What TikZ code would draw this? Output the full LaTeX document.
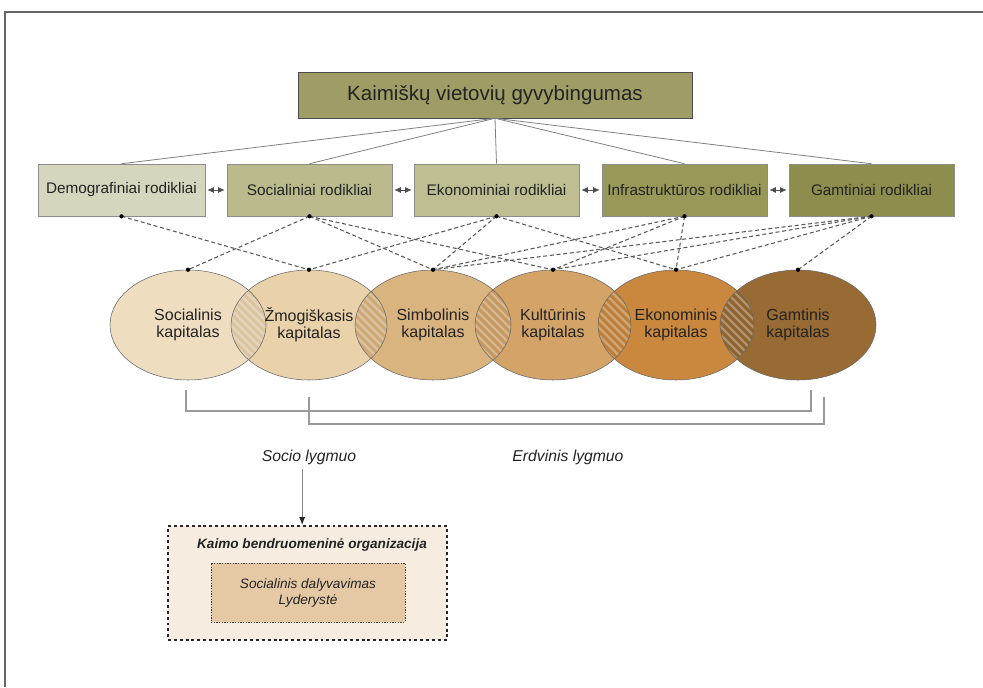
\documentclass[tikz,border=0pt]{standalone}
\usepackage{fontspec}
\setmainfont{Liberation Sans}
\usetikzlibrary{shapes.geometric,arrows.meta}

\definecolor{olivetop}{RGB}{157,157,101}
\definecolor{demofill}{RGB}{214,214,190}
\definecolor{socfill}{RGB}{186,186,141}
\definecolor{ekofill}{RGB}{190,190,146}
\definecolor{infrafill}{RGB}{152,152,88}
\definecolor{gamtfill}{RGB}{141,141,77}
\definecolor{capA}{RGB}{239,221,192}
\definecolor{capB}{RGB}{233,209,170}
\definecolor{capC}{RGB}{218,180,127}
\definecolor{capD}{RGB}{212,163,104}
\definecolor{capE}{RGB}{201,136,62}
\definecolor{capF}{RGB}{152,106,52}
\definecolor{orgfill}{RGB}{246,236,224}
\definecolor{partfill}{RGB}{229,201,165}
\definecolor{textgray}{RGB}{35,35,35}

\tikzset{
    indicator/.style={draw=black!45, inner sep=0pt, minimum width=123.75pt, minimum height=39pt,
        text=textgray, font=\fontsize{11.5}{13}\selectfont},
    capital/.style={ellipse, draw=black!60, inner sep=0pt, minimum width=117pt, minimum height=82.5pt,
        align=center, text=textgray, font=\fontsize{12}{12.8}\selectfont},
    link/.style={draw=black!65, line width=0.8pt, dash pattern=on 3pt off 2pt},
    twoway/.style={draw=black!70, line width=0.6pt, {Latex[length=5pt,width=4.5pt]}-{Latex[length=5pt,width=4.5pt]},
        shorten <=1.5pt, shorten >=1.5pt},
    bracket/.style={draw=black!40, line width=1.1pt},
    level/.style={text=textgray, font=\fontsize{11.8}{13}\selectfont\itshape},
}

\begin{document}
\begin{tikzpicture}[x=7.5pt, y=7.5pt]
    \useasboundingbox (0, 0) rectangle (98.3, 68.7);
    % frame
    \draw[black!60, line width=1.1pt] (0.5, 0) -- (0.5, 67.5) -- (98.3, 67.5);

    % top
    \node[draw=black!70, fill=olivetop, minimum width=295.5pt, minimum height=34.5pt, inner sep=0pt,
        text=textgray, font=\fontsize{15.4}{17}\selectfont] (gyv) at (49.5, 59.2) {Kaimiškų vietovių gyvybingumas};

    % indicators
    \node[indicator, fill=demofill, minimum width=125.25pt] (demo) at (12.15, 49.7) {Demografiniai rodikliai};
    \node[indicator, fill=socfill] (soc) at (30.95, 49.7) {Socialiniai rodikliai};
    \node[indicator, fill=ekofill] (eko) at (49.65, 49.7) {Ekonominiai rodikliai};
    \node[indicator, fill=infrafill] (infra) at (68.45, 49.7) {Infrastruktūros rodikliai};
    \node[indicator, fill=gamtfill] (gamt) at (87.15, 49.7) {Gamtiniai rodikliai};

    \draw[black!50, line width=0.6pt] (gyv.south) -- (demo.north);
    \draw[black!50, line width=0.6pt] (gyv.south) -- (soc.north);
    \draw[black!50, line width=0.6pt] (gyv.south) -- (eko.north);
    \draw[black!50, line width=0.6pt] (gyv.south) -- (infra.north);
    \draw[black!50, line width=0.6pt] (gyv.south) -- (gamt.north);

    \draw[twoway] (demo) -- (soc);
    \draw[twoway] (soc) -- (eko);
    \draw[twoway] (eko) -- (infra);
    \draw[twoway] (infra) -- (gamt);

    % capitals
    \fill[capA] (18.8, 36.2) ellipse [x radius=7.8, y radius=5.5];
    \fill[capB] (30.9, 36.2) ellipse [x radius=7.8, y radius=5.5];
    \fill[capC] (43.3, 36.2) ellipse [x radius=7.8, y radius=5.5];
    \fill[capD] (55.3, 36.2) ellipse [x radius=7.8, y radius=5.5];
    \fill[capE] (67.6, 36.2) ellipse [x radius=7.8, y radius=5.5];
    \fill[capF] (79.8, 36.2) ellipse [x radius=7.8, y radius=5.5];

    % hatched overlaps
    \foreach \a/\b in {18.8/30.9, 30.9/43.3, 43.3/55.3, 55.3/67.6, 67.6/79.8} {
        \begin{scope}
            \clip (\a, 36.2) ellipse [x radius=7.8, y radius=5.5];
            \clip (\b, 36.2) ellipse [x radius=7.8, y radius=5.5];
            \fill[black, opacity=0.06] (\a, 30) rectangle (\b, 42);
            \foreach \s in {-8,...,8}
                \draw[white, opacity=0.3, line width=1.8pt] ({(\a+\b)/2+\s*0.8-6}, 42) -- ++(12, -12);
        \end{scope}
    }

    \node[capital] (socl) at (18.8, 36.2) {Socialinis\\kapitalas};
    \node[capital] (zmog) at (30.9, 36.2) {Žmogiškasis\\kapitalas};
    \node[capital] (simb) at (43.3, 36.2) {Simbolinis\\kapitalas};
    \node[capital] (kult) at (55.3, 36.2) {Kultūrinis\\kapitalas};
    \node[capital] (ekon) at (67.6, 36.2) {Ekonominis\\kapitalas};
    \node[capital] (gamtk) at (79.8, 36.2) {Gamtinis\\kapitalas};

    % links
    \draw[link] (demo.south) -- (zmog.north);
    \draw[link] (soc.south) -- (socl.north);
    \draw[link] (soc.south) -- (simb.north);
    \draw[link] (soc.south) -- (kult.north);
    \draw[link] (eko.south) -- (zmog.north);
    \draw[link] (eko.south) -- (simb.north);
    \draw[link] (eko.south) -- (ekon.north);
    \draw[link] (infra.south) -- (simb.north);
    \draw[link] (infra.south) -- (kult.north);
    \draw[link] (infra.south) -- (ekon.north);
    \draw[link] (gamt.south) -- (simb.north);
    \draw[link] (gamt.south) -- (kult.north);
    \draw[link] (gamt.south) -- (ekon.north);
    \draw[link] (gamt.south) -- (gamtk.north);

    \foreach \n in {demo, soc, eko, infra, gamt}
        \fill (\n.south) circle (1.6pt);
    \foreach \n in {socl, zmog, simb, kult, ekon, gamtk}
        \fill (\n.north) circle (1.6pt);

    % levels
    \coordinate (sp1) at (18.6, 29.7);
    \coordinate (sp2) at (81.1, 29.7);
    \coordinate (ep1) at (30.9, 29.0);
    \coordinate (ep2) at (82.4, 29.0);
    \draw[bracket] (sp1) -- ++(0, -2.1) -| (sp2);
    \draw[bracket] (ep1) -- ++(0, -2.7) -| (ep2);

    \node[level] (socio) at (30.9, 23.0) {Socio lygmuo};
    \node[level] (erdv) at (56.8, 23.0) {Erdvinis lygmuo};

    % organisation
    \node[draw=black!85, fill=orgfill, line width=1.3pt, dash pattern=on 2.2pt off 2.2pt,
        minimum width=209.25pt, minimum height=85.5pt, inner sep=0pt] (org) at (30.75, 10.4) {};
    \node[text=textgray, font=\fontsize{10.2}{12}\selectfont\bfseries\itshape] (orgtitle) at (31.2, 14.2)
        {Kaimo bendruomeninė organizacija};
    \node[draw=black!75, fill=partfill, line width=0.6pt, dash pattern=on 1pt off 1pt,
        minimum width=145.5pt, minimum height=44.25pt, inner sep=0pt, align=center,
        text=textgray, font=\fontsize{10.2}{12}\selectfont\itshape] (part) at (30.8, 9.45)
        {Socialinis dalyvavimas\\Lyderystė};

    \draw[black!50, line width=0.7pt, -{Latex[length=6pt,width=4.5pt,color=black!85]}]
        ([xshift=-4pt]org.north |- socio.south) -- ([xshift=-4pt]org.north);
\end{tikzpicture}
\end{document}
